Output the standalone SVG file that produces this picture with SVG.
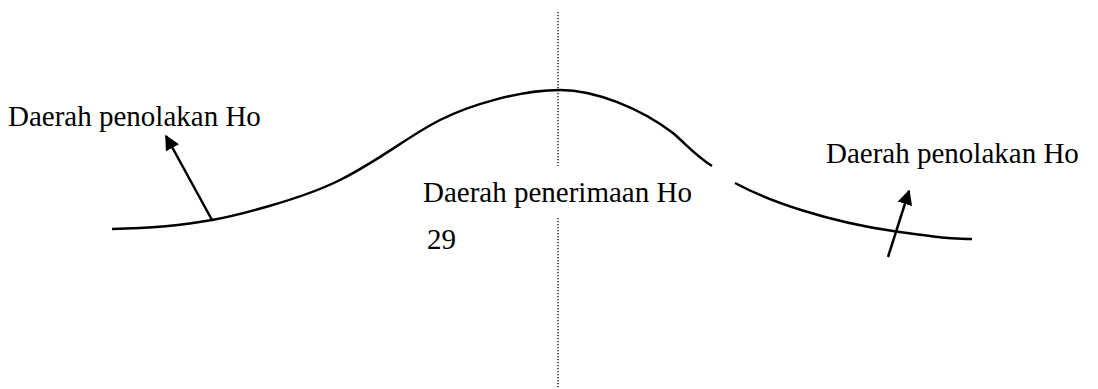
<svg xmlns="http://www.w3.org/2000/svg" width="1098" height="389" viewBox="0 0 1098 389">
<defs>
<style>
.lbl{font-family:"Liberation Serif","Times New Roman",Times,serif;font-size:29px;fill:#000}
.curve{fill:none;stroke:#000;stroke-width:2.5;stroke-linecap:butt}
.arr{fill:none;stroke:#000;stroke-width:2.5}
.dot{fill:none;stroke:#000;stroke-width:1.3;stroke-dasharray:1.3 1.7}
</style>
<marker id="ah" viewBox="0 0 10 10" refX="9" refY="5" markerWidth="6" markerHeight="6" markerUnits="strokeWidth" orient="auto">
<path d="M0,0 L10,5 L0,10 z" fill="#000"/>
</marker>
</defs>
<rect width="1098" height="389" fill="#fff"/>
<g id="axis">
<line class="dot" x1="558" y1="12" x2="558" y2="166"/>
<line class="dot" x1="558" y1="218" x2="558" y2="389"/>
</g>
<g id="curve">
<path class="curve" d="M112,229 C160,228 190,224 212,220 S300,200 340,180 S410,135 440,120 S520,90 560,90 C595,90 640,108 673,133 C688,146 695,155 712,166"/>
<path class="curve" d="M735,183 C770,202 830,222 893,231 S950,238 972,239"/>
</g>
<g id="connectors">
<line class="arr" x1="212" y1="220" x2="166" y2="136" marker-end="url(#ah)"/>
<line class="arr" x1="888" y1="257" x2="909" y2="191" marker-end="url(#ah)"/>
</g>
<g id="label-left">
<text class="lbl" x="8" y="126">Daerah penolakan Ho</text>
</g>
<g id="label-middle">
<text class="lbl" x="423" y="202">Daerah penerimaan Ho</text>
<text class="lbl" x="427" y="249">29</text>
</g>
<g id="label-right">
<text class="lbl" x="826" y="163">Daerah penolakan Ho</text>
</g>
</svg>
